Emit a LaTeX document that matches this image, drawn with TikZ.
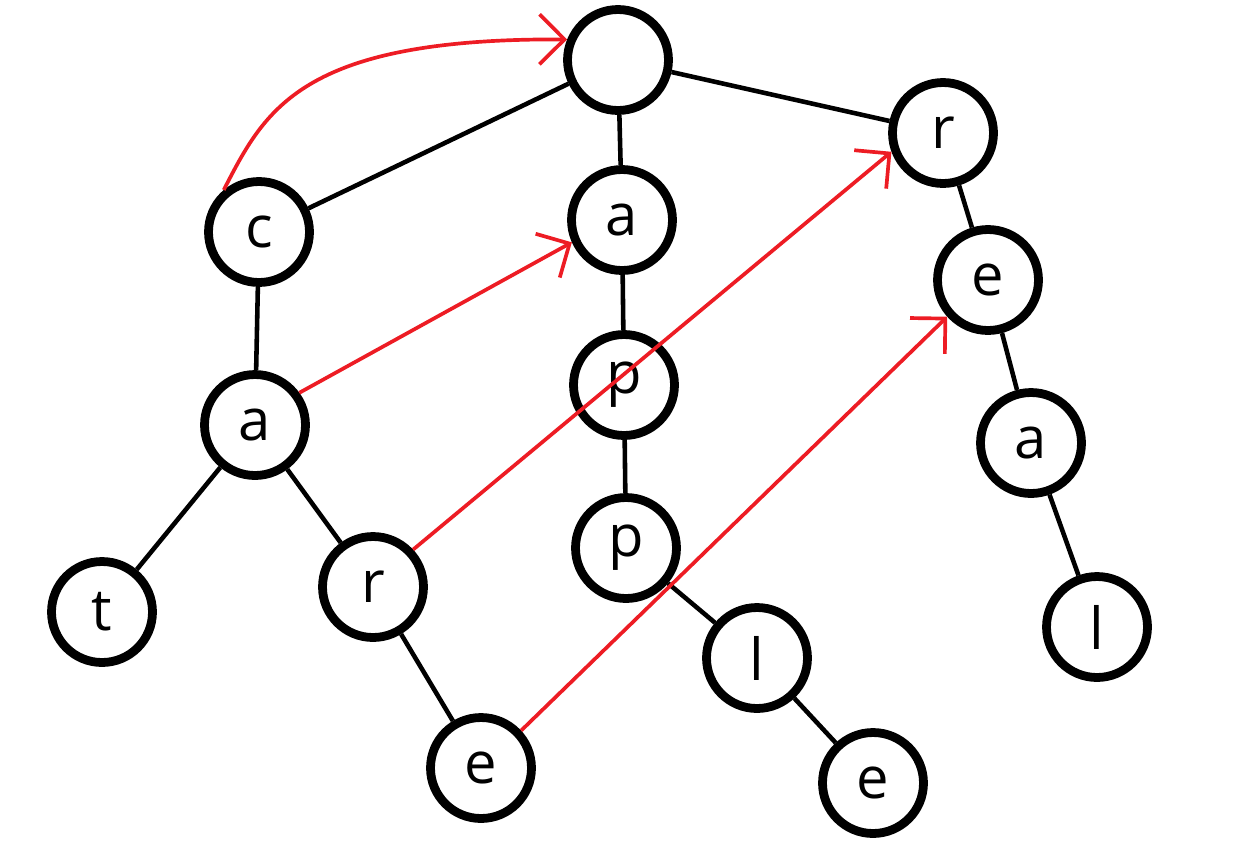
\documentclass[tikz,border=0pt]{standalone}
\usepackage{fontspec}
\setmainfont{Open Sans}
\usetikzlibrary{arrows.meta}

\definecolor{paintred}{RGB}{237,28,36}

\begin{document}
\begin{tikzpicture}[
    x=0.02cm, y=-0.02cm,
    trienode/.style={
        circle,
        draw=black,
        line width=5pt,
        minimum size=2.02cm,
        inner sep=0pt,
        font=\fontsize{33}{38}\selectfont
    },
    edge/.style={line width=2.6pt, draw=black},
    fail/.style={-{Straight Barb[length=5mm, width=10mm, line width=2.1pt]}, line width=2.1pt, draw=paintred}
]
\useasboundingbox (0,0) rectangle (1240,843);

\node[trienode] (root) at (618,60) {};
\node[trienode] (c) at (259,232) {c};
\node[trienode] (ca) at (255,425) {a};
\node[trienode] (cat) at (102,612) {t};
\node[trienode] (car) at (373,587) {r};
\node[trienode] (care) at (481,768) {e};
\node[trienode] (a) at (622,220) {a};
\node[trienode] (ap) at (624,385) {p};
\node[trienode] (app) at (626,548) {p};
\node[trienode] (appl) at (757,658) {l};
\node[trienode] (apple) at (873,783) {e};
\node[trienode] (r) at (943,133) {r};
\node[trienode] (re) at (988,280) {e};
\node[trienode] (rea) at (1031,443) {a};
\node[trienode] (real) at (1097,627) {l};

\draw[edge] (root) -- (c);
\draw[edge] (root) -- (a);
\draw[edge] (root) -- (r);
\draw[edge] (c) -- (ca);
\draw[edge] (ca) -- (cat);
\draw[edge] (ca) -- (car);
\draw[edge] (car) -- (care);
\draw[edge] (a) -- (ap);
\draw[edge] (ap) -- (app);
\draw[edge] (app) -- (appl);
\draw[edge] (appl) -- (apple);
\draw[edge] (r) -- (re);
\draw[edge] (re) -- (rea);
\draw[edge] (rea) -- (real);

% fail links
\draw[fail] (c.130) .. controls (265,110) and (300,38) .. (root.158);
\draw[fail] (ca.36) -- (a.204);
\draw[fail] (car.43) -- (r.200);
\draw[fail] (care.43) -- (re.222);

\end{tikzpicture}
\end{document}
